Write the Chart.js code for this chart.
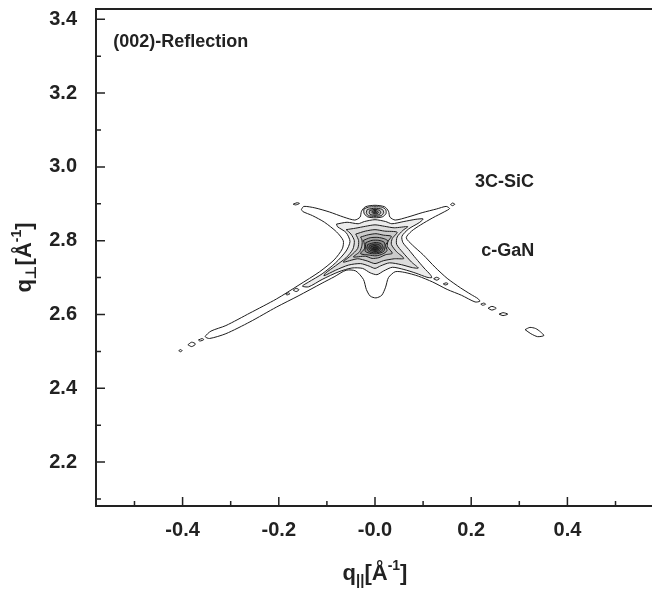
<!DOCTYPE html>
<html>
<head>
<meta charset="utf-8">
<script src="https://cdn.jsdelivr.net/npm/chart.js@4.4.1/dist/chart.umd.min.js"></script>
<style>
  html, body { margin: 0; padding: 0; background: #fff; overflow: hidden; width: 652px; height: 589px; }
  canvas { display: block; }
</style>
</head>
<body>
<canvas id="rsm" width="700" height="589"></canvas>
<script>
// axis ticks
const xMajorTicks = [-0.4, -0.2, 0, 0.2, 0.4];
const xTickLabels = ['-0.4', '-0.2', '-0.0', '0.2', '0.4'];
const xMinorTicks = [-0.5, -0.3, -0.1, 0.1, 0.3, 0.5];
const yMajorTicks = [2.2, 2.4, 2.6, 2.8, 3.0, 3.2, 3.4];
const yTickLabels = ['2.2', '2.4', '2.6', '2.8', '3.0', '3.2', '3.4'];
const yMinorTicks = [2.1, 2.3, 2.5, 2.7, 2.9, 3.1, 3.3];

// contour lines, points are [q_par, q_perp]
// c-GaN peak, outermost level first
const gan1 = [[-0.153,2.885],[-0.148,2.893],[-0.125,2.889],[-0.095,2.878],[-0.065,2.864],[-0.042,2.856],[-0.031,2.864],[-0.028,2.880],[-0.020,2.892],[0.000,2.896],[0.020,2.892],[0.028,2.880],[0.031,2.864],[0.042,2.856],[0.068,2.864],[0.098,2.876],[0.128,2.886],[0.148,2.893],[0.155,2.887],[0.145,2.879],[0.120,2.862],[0.095,2.843],[0.076,2.826],[0.065,2.808],[0.078,2.788],[0.100,2.762],[0.125,2.728],[0.150,2.698],[0.178,2.672],[0.200,2.654],[0.214,2.643],[0.218,2.636],[0.208,2.634],[0.180,2.652],[0.150,2.668],[0.120,2.688],[0.090,2.704],[0.062,2.714],[0.042,2.716],[0.028,2.700],[0.022,2.674],[0.014,2.652],[0.002,2.645],[-0.010,2.650],[-0.018,2.668],[-0.024,2.695],[-0.040,2.718],[-0.060,2.720],[-0.085,2.702],[-0.110,2.685],[-0.160,2.650],[-0.205,2.620],[-0.260,2.580],[-0.310,2.548],[-0.344,2.535],[-0.353,2.540],[-0.341,2.555],[-0.310,2.570],[-0.260,2.604],[-0.205,2.642],[-0.158,2.680],[-0.115,2.716],[-0.085,2.748],[-0.068,2.778],[-0.066,2.800],[-0.080,2.824],[-0.105,2.850],[-0.130,2.868],[-0.150,2.879],[-0.153,2.885]];
const gan2 = [[-0.080,2.845],[-0.058,2.850],[-0.035,2.846],[-0.022,2.852],[0.000,2.857],[0.022,2.852],[0.035,2.846],[0.060,2.852],[0.085,2.858],[0.100,2.859],[0.092,2.849],[0.070,2.832],[0.056,2.812],[0.058,2.795],[0.070,2.776],[0.085,2.752],[0.102,2.726],[0.115,2.708],[0.118,2.700],[0.108,2.701],[0.085,2.712],[0.060,2.722],[0.036,2.728],[0.018,2.718],[0.004,2.708],[-0.010,2.713],[-0.026,2.725],[-0.048,2.726],[-0.075,2.716],[-0.110,2.695],[-0.138,2.675],[-0.151,2.677],[-0.138,2.688],[-0.110,2.710],[-0.082,2.740],[-0.060,2.772],[-0.052,2.798],[-0.060,2.822],[-0.078,2.838],[-0.080,2.845]];
const gan3 = [[-0.060,2.830],[-0.040,2.834],[-0.020,2.839],[0.000,2.843],[0.020,2.839],[0.040,2.835],[0.068,2.838],[0.058,2.828],[0.046,2.810],[0.045,2.790],[0.058,2.768],[0.076,2.742],[0.090,2.726],[0.078,2.727],[0.055,2.735],[0.030,2.740],[0.012,2.732],[0.000,2.725],[-0.012,2.731],[-0.030,2.738],[-0.055,2.734],[-0.082,2.720],[-0.106,2.705],[-0.103,2.712],[-0.082,2.732],[-0.060,2.754],[-0.046,2.777],[-0.043,2.800],[-0.050,2.818],[-0.060,2.830]];
const gan4 = [[-0.040,2.818],[-0.020,2.826],[0.000,2.830],[0.020,2.826],[0.046,2.823],[0.036,2.806],[0.034,2.790],[0.045,2.770],[0.060,2.752],[0.040,2.751],[0.018,2.746],[0.000,2.738],[-0.016,2.745],[-0.036,2.751],[-0.066,2.742],[-0.050,2.760],[-0.036,2.779],[-0.034,2.800],[-0.040,2.818]];
const gan5 = [[-0.030,2.810],[-0.014,2.816],[0.002,2.819],[0.018,2.815],[0.034,2.812],[0.027,2.798],[0.026,2.784],[0.036,2.766],[0.022,2.762],[0.008,2.754],[-0.006,2.752],[-0.020,2.758],[-0.045,2.756],[-0.032,2.770],[-0.027,2.788],[-0.027,2.802],[-0.030,2.810]];
const gan6 = [[-0.024,2.801],[-0.010,2.808],[0.006,2.809],[0.020,2.805],[0.027,2.799],[0.022,2.788],[0.025,2.773],[0.016,2.764],[0.002,2.759],[-0.012,2.761],[-0.030,2.765],[-0.022,2.778],[-0.022,2.790],[-0.024,2.801]];
const gan7 = [[-0.019,2.795],[-0.006,2.801],[0.008,2.801],[0.019,2.796],[0.021,2.784],[0.018,2.771],[0.006,2.765],[-0.008,2.765],[-0.020,2.771],[-0.020,2.783],[-0.019,2.795]];
const gan8 = [[-0.015,2.790],[0.000,2.795],[0.013,2.792],[0.017,2.781],[0.013,2.771],[0.000,2.767],[-0.013,2.771],[-0.017,2.780],[-0.015,2.790]];
const gan9 = [[-0.011,2.787],[0.000,2.791],[0.010,2.788],[0.013,2.780],[0.009,2.773],[0.000,2.771],[-0.010,2.774],[-0.013,2.780],[-0.011,2.787]];
const gan10 = [[-0.008,2.784],[0.000,2.787],[0.007,2.784],[0.009,2.779],[0.006,2.775],[0.000,2.774],[-0.007,2.776],[-0.009,2.780],[-0.008,2.784]];
const gan11 = [[-0.004,2.781],[0.001,2.783],[0.005,2.781],[0.005,2.778],[0.000,2.776],[-0.005,2.778],[-0.004,2.781]];

// 3C-SiC peak rings
const sic1 = [[-0.023,2.886],[-0.014,2.891],[0.000,2.892],[0.014,2.891],[0.022,2.885],[0.023,2.874],[0.016,2.865],[0.000,2.862],[-0.016,2.865],[-0.023,2.875],[-0.023,2.886]];
const sic2 = [[-0.016,2.885],[0.000,2.888],[0.015,2.885],[0.018,2.876],[0.013,2.868],[0.000,2.866],[-0.014,2.868],[-0.018,2.876],[-0.016,2.885]];
const sic3 = [[-0.011,2.882],[0.000,2.885],[0.010,2.882],[0.012,2.876],[0.009,2.871],[0.000,2.869],[-0.010,2.871],[-0.012,2.876],[-0.011,2.882]];
const sic4 = [[-0.006,2.880],[0.000,2.882],[0.005,2.880],[0.007,2.876],[0.004,2.873],[-0.003,2.873],[-0.006,2.876],[-0.006,2.880]];
const sic5 = [[-0.003,2.878],[0.002,2.879],[0.003,2.876],[-0.002,2.875],[-0.003,2.878]];

// small closed islands along the streaks
const islandUL = [[-0.170,2.899],[-0.162,2.903],[-0.157,2.901],[-0.165,2.897],[-0.170,2.899]];
const islandUR = [[0.157,2.898],[0.161,2.902],[0.166,2.899],[0.161,2.895],[0.157,2.898]];
const islandLL1 = [[-0.367,2.531],[-0.359,2.535],[-0.356,2.532],[-0.364,2.528],[-0.367,2.531]];
const islandLL2 = [[-0.389,2.518],[-0.381,2.525],[-0.373,2.520],[-0.381,2.513],[-0.389,2.518]];
const islandLL3 = [[-0.408,2.502],[-0.404,2.505],[-0.401,2.502],[-0.404,2.499],[-0.408,2.502]];
const islandLR1 = [[0.220,2.628],[0.226,2.631],[0.230,2.628],[0.224,2.625],[0.220,2.628]];
const islandLR2 = [[0.235,2.617],[0.243,2.622],[0.252,2.617],[0.243,2.612],[0.235,2.617]];
const islandLR3 = [[0.258,2.601],[0.266,2.605],[0.276,2.601],[0.266,2.597],[0.258,2.601]];
const islandLR4 = [[0.312,2.559],[0.322,2.565],[0.334,2.562],[0.344,2.553],[0.351,2.543],[0.338,2.540],[0.324,2.548],[0.312,2.559]];
// second level islands inside the streaks
const islandIn1 = [[-0.186,2.656],[-0.180,2.659],[-0.177,2.656],[-0.183,2.653],[-0.186,2.656]];
const islandIn2 = [[-0.170,2.666],[-0.164,2.671],[-0.158,2.667],[-0.164,2.662],[-0.170,2.666]];
const islandIn3 = [[0.122,2.697],[0.128,2.701],[0.134,2.697],[0.128,2.693],[0.122,2.697]];
const islandIn4 = [[0.142,2.683],[0.148,2.686],[0.152,2.683],[0.146,2.680],[0.142,2.683]];

// drawing order, outer first
const layers = [
  [gan1, '#ffffff'],
  [islandUL, '#ffffff'], [islandUR, '#ffffff'],
  [islandLL1, '#ffffff'], [islandLL2, '#ffffff'], [islandLL3, '#ffffff'],
  [islandLR1, '#ffffff'], [islandLR2, '#ffffff'], [islandLR3, '#ffffff'], [islandLR4, '#ffffff'],
  [islandIn1, '#ececec'], [islandIn2, '#ececec'], [islandIn3, '#ececec'], [islandIn4, '#ececec'],
  [gan2, '#ececec'], [gan3, '#dcdcdc'], [gan4, '#cbcbcb'], [gan5, '#b9b9b9'], [gan6, '#a5a5a5'],
  [gan7, '#8f8f8f'], [gan8, '#777777'], [gan9, '#5e5e5e'], [gan10, '#444444'], [gan11, '#2a2a2a'],
  [sic1, '#e8e8e8'], [sic2, '#d0d0d0'], [sic3, '#b0b0b0'], [sic4, '#858585'], [sic5, '#555555']
];

const datasets = layers.map(([pts, color], i) => ({
  data: pts.map(([x, y]) => ({ x, y })),
  showLine: true,
  fill: 'shape',
  backgroundColor: color,
  borderColor: '#1c1c1c',
  borderWidth: 1,
  pointRadius: 0,
  tension: 0.25,
  order: layers.length - i
}));

const fontFamily = '"Liberation Sans", Arial, Helvetica, sans-serif';
const tickFont = { family: fontFamily, size: 20, weight: 'bold' };

function drawRich(ctx, parts, cx, baseY) {
  let total = 0;
  parts.forEach(([t, dy, size]) => {
    ctx.font = 'bold ' + size + 'px ' + fontFamily + ', "DejaVu Sans"';
    total += ctx.measureText(t).width;
  });
  let xx = cx - total / 2;
  parts.forEach(([t, dy, size]) => {
    ctx.font = 'bold ' + size + 'px ' + fontFamily + ', "DejaVu Sans"';
    ctx.fillText(t, xx, baseY + dy);
    xx += ctx.measureText(t).width;
  });
}

const frame = {
  id: 'frame',
  afterDraw(chart) {
    const { ctx, chartArea: a, scales: { x, y } } = chart;
    ctx.save();
    ctx.strokeStyle = '#222';
    ctx.lineWidth = 2;
    ctx.beginPath();
    ctx.moveTo(a.right, a.top);
    ctx.lineTo(a.left, a.top);
    ctx.lineTo(a.left, a.bottom);
    ctx.lineTo(a.right, a.bottom);
    ctx.stroke();

    ctx.lineWidth = 1.5;
    ctx.beginPath();
    xMajorTicks.forEach(v => { const p = x.getPixelForValue(v); ctx.moveTo(p, a.bottom); ctx.lineTo(p, a.bottom - 9); });
    xMinorTicks.forEach(v => { const p = x.getPixelForValue(v); ctx.moveTo(p, a.bottom); ctx.lineTo(p, a.bottom - 5); });
    yMajorTicks.forEach(v => { const p = y.getPixelForValue(v); ctx.moveTo(a.left, p); ctx.lineTo(a.left + 9, p); });
    yMinorTicks.forEach(v => { const p = y.getPixelForValue(v); ctx.moveTo(a.left, p); ctx.lineTo(a.left + 5, p); });
    ctx.stroke();

    // annotations
    ctx.fillStyle = '#222';
    ctx.font = 'bold 18px ' + fontFamily;
    ctx.textBaseline = 'middle';
    ctx.textAlign = 'left';
    ctx.fillText('(002)-Reflection', x.getPixelForValue(-0.544), y.getPixelForValue(3.338));
    ctx.textAlign = 'center';
    ctx.fillText('3C-SiC', x.getPixelForValue(0.269), y.getPixelForValue(2.96));
    ctx.fillText('c-GaN', x.getPixelForValue(0.276), y.getPixelForValue(2.772));

    // axis titles
    ctx.textAlign = 'left';
    ctx.textBaseline = 'alphabetic';
    drawRich(ctx, [['q', 0, 22], ['||', 5, 15], ['[Å', 0, 22], ['-1', -10, 14], [']', 0, 22]], (a.left + a.right) / 2, 580);
    ctx.translate(23, (a.top + a.bottom) / 2);
    ctx.rotate(-Math.PI / 2);
    drawRich(ctx, [['q', 0, 22], ['⊥', 5, 15], ['[Å', 0, 22], ['-1', -10, 14], [']', 0, 22]], 0, 8);
    ctx.restore();
  }
};

new Chart(document.getElementById('rsm'), {
  type: 'scatter',
  data: { datasets },
  options: {
    responsive: false,
    animation: false,
    events: [],
    layout: { padding: { top: 9, right: 46, left: 0, bottom: 0 } },
    plugins: { legend: { display: false }, tooltip: { enabled: false } },
    scales: {
      x: {
        type: 'linear',
        min: -0.58,
        max: 0.58,
        afterBuildTicks: s => { s.ticks = xMajorTicks.map(v => ({ value: v })); },
        afterFit: s => { s.height = 83; s.paddingLeft = 0; s.paddingRight = 0; },
        grid: { display: false, drawTicks: false },
        border: { display: false },
        ticks: {
          padding: 12, color: '#222', font: tickFont, maxRotation: 0, autoSkip: false,
          callback: (v, i) => xTickLabels[i]
        }
      },
      y: {
        type: 'linear',
        min: 2.081,
        max: 3.428,
        afterBuildTicks: s => { s.ticks = yMajorTicks.map(v => ({ value: v })); },
        afterFit: s => { s.width = 96; s.paddingTop = 0; s.paddingBottom = 0; },
        grid: { display: false, drawTicks: false },
        border: { display: false },
        ticks: {
          padding: 19, color: '#222', font: tickFont, autoSkip: false,
          callback: (v, i) => yTickLabels[i]
        }
      }
    }
  },
  plugins: [frame]
});
</script>
</body>
</html>
